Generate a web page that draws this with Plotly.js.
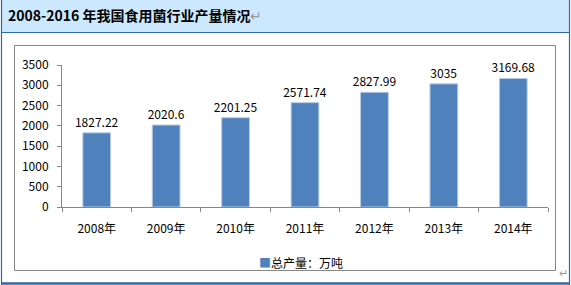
<!DOCTYPE html>
<html>
<head>
<meta charset="utf-8">
<script src="https://cdn.plot.ly/plotly-3.0.1.min.js"></script>
<style>
html,body{margin:0;padding:0;background:#fff;}
#chart{width:571px;height:285px;}
</style>
</head>
<body>
<div id="chart"></div>
<script>
const categories = ['2008年','2009年','2010年','2011年','2012年','2013年','2014年'];
const production = [1827.22, 2020.6, 2201.25, 2571.74, 2827.99, 3035, 3169.68];
const valueLabels = ['1827.22','2020.6','2201.25','2571.74','2827.99','3035','3169.68'];
const seriesName = '总产量：万吨';
const titleText = '2008-2016 年我国食用菌行业产量情况';

const L = 62, R = 548, T = 65, B = 207;
const W = 571, H = 285;
const px = x => (x - L) / (R - L);
const py = y => (B - y) / (B - T);

const font = '"SimSun", "Noto Sans CJK SC", sans-serif';
const barColor = '#4F81BD';

const trace = {
  type: 'bar',
  x: categories,
  y: production,
  name: seriesName,
  text: valueLabels,
  textposition: 'outside',
  constraintext: 'none',
  cliponaxis: false,
  textfont: {family: font, size: 12, color: '#000'},
  marker: {color: barColor, line: {color: '#B9CDE5', width: 1}},
  showlegend: false,
  hoverinfo: 'x+y'
};

const shapes = [
  {type:'rect', xref:'paper', yref:'paper', x0:px(2), x1:px(569), y0:py(0), y1:py(32),
   fillcolor:'#CCE8FF', line:{width:0}, layer:'below'},
  {type:'line', xref:'paper', yref:'paper', x0:px(2), x1:px(569), y0:py(32.5), y1:py(32.5),
   line:{color:'#2E6AA6', width:1.2}, layer:'below'},
  {type:'line', xref:'paper', yref:'paper', x0:px(1.5), x1:px(1.5), y0:py(0), y1:py(285),
   line:{color:'#2E6AA6', width:1.2}, layer:'below'},
  {type:'line', xref:'paper', yref:'paper', x0:px(569.5), x1:px(569.5), y0:py(0), y1:py(285),
   line:{color:'#2E6AA6', width:1.2}, layer:'below'},
  {type:'line', xref:'paper', yref:'paper', x0:px(1), x1:px(570), y0:py(283.5), y1:py(283.5),
   line:{color:'#2E6AA6', width:2.5}, layer:'below'},
  {type:'rect', xref:'paper', yref:'paper', x0:px(14.5), x1:px(555.5), y0:py(45.5), y1:py(270.5),
   fillcolor:'rgba(0,0,0,0)', line:{color:'#868686', width:1}, layer:'below'}
];

const layout = {
  width: W, height: H,
  margin: {l: L, r: W - R, t: T, b: H - B, pad: 0, autoexpand: false},
  paper_bgcolor: '#fff',
  plot_bgcolor: 'rgba(0,0,0,0)',
  bargap: 0.6,
  title: {
    text: '<b>' + titleText + '</b><span style="color:#9a9a9a">↵</span>',
    font: {family: '"Noto Sans CJK SC", sans-serif', size: 14, color: '#000'},
    xref: 'container', yref: 'container',
    x: 8 / W, xanchor: 'left',
    y: 1 - 16 / H, yanchor: 'middle'
  },
  xaxis: {
    type: 'category',
    showline: true, linecolor: '#868686', linewidth: 1,
    ticks: 'outside', ticklen: 4, tickcolor: '#868686',
    tickson: 'boundaries',
    ticklabelstandoff: 11,
    tickfont: {family: font, size: 12, color: '#000'},
    showgrid: false, zeroline: false,
    automargin: false,
    fixedrange: true
  },
  yaxis: {
    range: [0, 3500],
    dtick: 500,
    showline: true, linecolor: '#868686', linewidth: 1,
    ticks: 'outside', ticklen: 4, tickcolor: '#868686',
    tickfont: {family: font, size: 12, color: '#000'},
    ticklabelstandoff: 6,
    showgrid: false, zeroline: false,
    automargin: false,
    fixedrange: true
  },
  showlegend: false,
  shapes: shapes,
  annotations: [
    {xref:'paper', yref:'paper', x:px(257), y:py(262),
     text:'<span style="color:' + barColor + '">■</span>' + seriesName,
     showarrow:false, xanchor:'left', yanchor:'middle',
     font:{family: font, size: 12, color:'#000'}},
    {xref:'paper', yref:'paper', x:px(563), y:py(272), text:'↵', showarrow:false,
     font:{family: font, size: 11, color:'#9a9a9a'}, xanchor:'center', yanchor:'middle'}
  ]
};

Plotly.newPlot('chart', [trace], layout, {displayModeBar: false, staticPlot: true});
</script>
</body>
</html>
